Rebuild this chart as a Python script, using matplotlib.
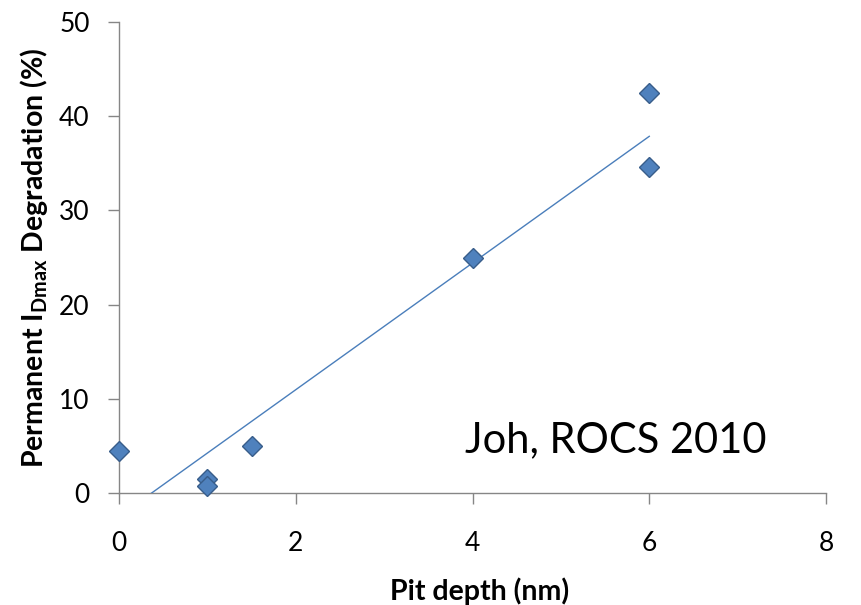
import numpy as np
import matplotlib
matplotlib.use('Agg')
import matplotlib.pyplot as plt
import matplotlib.ticker as ticker

plt.rcParams['font.family'] = ['Lato', 'DejaVu Sans']

# Datos
pit_depth = [0, 1, 1, 1.5, 4, 6, 6]
degradation = [4.5, 1.5, 0.75, 5.0, 24.9, 42.5, 34.6]

x_ticks = [0, 2, 4, 6, 8]
y_ticks = [0, 10, 20, 30, 40, 50]

# recta de tendencia (minimos cuadrados, como Excel)
pendiente, ordenada = np.polyfit(pit_depth, degradation, 1)
xt = np.array([min(pit_depth), max(pit_depth)])
yt = pendiente * xt + ordenada

fig = plt.figure(figsize=(8.61, 6.05), dpi=100)
ax = fig.add_axes([0.1382, 0.1851, 0.8212, 0.7785])

ax.plot(xt, yt, color='#4A7EBB', lw=1.0, zorder=2)
ax.plot(pit_depth, degradation, linestyle='none', marker='D', markersize=10.5,
        markerfacecolor='#4F81BD', markeredgecolor='#385D8A', markeredgewidth=1.0,
        zorder=3, clip_on=False)

ax.set_xlim(0, 8)
ax.set_ylim(0, 50)
ax.set_xticks(x_ticks)
ax.set_yticks(y_ticks)
ax.xaxis.set_major_formatter(ticker.FuncFormatter(lambda v, p: f'{v:g}'))

for s in ['top', 'right']:
    ax.spines[s].set_visible(False)
for s in ['left', 'bottom']:
    ax.spines[s].set_color('#868686')
    ax.spines[s].set_linewidth(1.0)
ax.spines['bottom'].set_zorder(1)
ax.tick_params(axis='both', direction='out', length=8, width=1, color='#868686',
               labelsize=19, labelcolor='black')
ax.tick_params(axis='x', pad=19)
ax.tick_params(axis='y', pad=13)

ax.set_xlabel('Pit depth (nm)', fontsize=20.5, fontweight='bold')
ax.set_ylabel(r'Permanent I$_{\mathregular{Dmax}}$ Degradation (%)', fontsize=20.5,
              fontweight='bold')
ax.xaxis.set_label_coords(0.51, -0.18)
ax.yaxis.set_label_coords(-0.098, 0.5)

ax.text(3.92, 4.35, 'Joh, ROCS 2010', fontsize=30, ha='left', va='baseline')

plt.savefig('out.png', dpi=100)
